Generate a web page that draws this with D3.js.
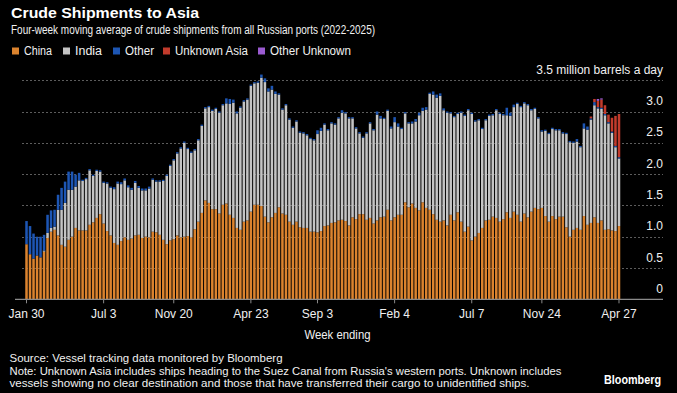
<!DOCTYPE html>
<html><head><meta charset="utf-8">
<script src="https://cdn.jsdelivr.net/npm/d3@7"></script>
<style>
html,body{margin:0;padding:0;background:#000;}
svg{display:block;}
text{font-family:"Liberation Sans Narrow","Liberation Sans",Arial,sans-serif;}
</style></head>
<body>
<svg id="chart" width="677" height="393"></svg>
<script>
// ---- data (million barrels a day, four-week moving average) ----
const startWeek = "2022-01-30";
const china = [0.88,0.72,0.65,0.70,0.67,0.76,0.98,1.08,1.11,1.02,0.87,0.84,0.95,1.00,1.14,1.10,1.10,1.10,1.19,1.23,
1.30,1.36,1.21,1.09,1.02,0.90,0.87,0.93,0.99,0.95,0.97,1.02,1.03,0.98,1.00,0.99,1.08,1.07,1.03,0.95,
0.88,0.94,0.96,1.02,0.99,1.00,1.01,0.99,1.12,1.24,1.38,1.58,1.54,1.44,1.44,1.37,1.51,1.53,1.35,1.30,
1.14,1.11,1.24,1.26,1.40,1.51,1.51,1.49,1.32,1.23,1.31,1.38,1.47,1.37,1.35,1.24,1.19,1.24,1.15,1.14,
1.14,1.08,1.08,1.07,1.09,1.17,1.18,1.22,1.23,1.26,1.27,1.25,1.18,1.31,1.28,1.36,1.36,1.27,1.30,1.21,
1.26,1.31,1.32,1.43,1.26,1.31,1.35,1.35,1.55,1.47,1.53,1.46,1.42,1.55,1.46,1.43,1.36,1.27,1.24,1.26,
1.18,1.35,1.26,1.39,1.24,1.08,1.16,0.94,1.00,1.06,1.14,1.26,1.27,1.32,1.30,1.24,1.28,1.39,1.30,1.40,
1.35,1.24,1.37,1.31,1.40,1.46,1.44,1.46,1.33,1.24,1.33,1.28,1.32,1.32,1.15,1.00,1.11,1.14,1.11,1.33,
1.19,1.22,1.31,1.22,1.26,1.11,1.12,1.10,1.09,1.17];
const india = [0.00,0.00,0.00,0.00,0.00,0.02,0.08,0.06,0.05,0.41,0.56,0.70,0.80,0.75,0.66,0.80,0.79,0.82,0.87,0.74,
0.75,0.68,0.65,0.76,0.76,0.86,0.98,0.91,0.91,0.84,0.78,0.84,0.75,0.76,0.74,0.78,0.83,0.81,0.85,0.94,
1.09,1.19,1.26,1.31,1.42,1.50,1.39,1.35,1.26,1.30,1.39,1.47,1.53,1.57,1.60,1.61,1.59,1.60,1.77,1.84,
1.83,1.95,1.92,1.93,2.01,1.94,1.95,2.05,2.15,2.09,2.04,1.90,1.80,1.66,1.75,1.63,1.55,1.60,1.51,1.51,
1.48,1.48,1.46,1.57,1.60,1.62,1.52,1.59,1.56,1.63,1.71,1.72,1.71,1.58,1.45,1.29,1.22,1.38,1.51,1.49,
1.69,1.58,1.56,1.58,1.47,1.52,1.41,1.37,1.42,1.34,1.28,1.38,1.52,1.46,1.57,1.85,1.91,1.95,2.01,1.76,
1.80,1.62,1.65,1.57,1.74,1.85,1.86,2.02,1.84,1.80,1.58,1.60,1.66,1.62,1.72,1.72,1.66,1.55,1.63,1.67,
1.77,1.83,1.76,1.79,1.62,1.58,1.45,1.22,1.36,1.40,1.39,1.42,1.38,1.33,1.49,1.51,1.39,1.38,1.32,1.40,
1.52,1.65,1.79,1.83,1.78,1.83,1.69,1.56,1.34,1.08];
const other = [0.37,0.45,0.40,0.30,0.33,0.25,0.29,0.28,0.27,0.24,0.35,0.34,0.29,0.29,0.19,0.12,0.02,0.02,0.02,0.02,
0.02,0.02,0.02,0.02,0.02,0.03,0.03,0.03,0.03,0.03,0.03,0.03,0.03,0.03,0.03,0.03,0.02,0.02,0.02,0.02,
0.02,0.02,0.02,0.02,0.02,0.02,0.02,0.02,0.02,0.02,0.02,0.02,0.02,0.02,0.02,0.02,0.02,0.08,0.08,0.05,
0.03,0.02,0.02,0.02,0.02,0.02,0.02,0.05,0.06,0.05,0.06,0.04,0.02,0.02,0.02,0.02,0.02,0.02,0.02,0.02,
0.02,0.02,0.02,0.06,0.05,0.02,0.02,0.02,0.02,0.02,0.04,0.02,0.02,0.02,0.02,0.02,0.02,0.02,0.02,0.02,
0.05,0.04,0.02,0.02,0.03,0.08,0.05,0.02,0.02,0.02,0.03,0.04,0.04,0.05,0.04,0.02,0.05,0.05,0.04,0.03,
0.02,0.02,0.02,0.02,0.02,0.02,0.02,0.02,0.02,0.02,0.02,0.02,0.02,0.02,0.02,0.02,0.02,0.12,0.05,0.04,
0.02,0.02,0.02,0.02,0.02,0.02,0.02,0.02,0.02,0.02,0.02,0.02,0.02,0.02,0.02,0.02,0.02,0.04,0.02,0.08,
0.05,0.02,0.05,0.02,0.02,0.02,0.02,0.02,0.02,0.02];
const unknownAsia = Array(161).fill(0).concat([0.03,0.05,0.10,0.13,0.14,0.12,0.22,0.48,0.69]);
const otherUnknown = Array(163).fill(0).concat([0.03,0.02,0,0,0,0,0]);

const seriesNames = ["China","India","Other","Unknown Asia","Other Unknown"];
const seriesColors = ["#db832e","#c4c4c4","#1d56b4","#c23b2c","#9b5bd1"];
const tickDates = ["2022-01-30","2022-07-03","2022-11-20","2023-04-23","2023-09-03","2024-02-04","2024-07-07","2024-11-24","2025-04-27"];
const tickLabels = ["Jan 30","Jul 3","Nov 20","Apr 23","Sep 3","Feb 4","Jul 7","Nov 24","Apr 27"];
const yTicks = [0,0.5,1,1.5,2,2.5,3,3.5];

// ---- build ----
const parse = d3.timeParse("%Y-%m-%d");
const fmt = d3.timeFormat("%Y-%m-%d");
const start = parse(startWeek);
const weeks = china.map((_, i) => fmt(d3.timeDay.offset(start, 7 * i)));
const table = weeks.map((w, i) => ({week: w, "China": china[i], "India": india[i], "Other": other[i],
  "Unknown Asia": unknownAsia[i], "Other Unknown": otherUnknown[i]}));
const stacked = d3.stack().keys(seriesNames)(table);

const svg = d3.select("#chart");
const x = d3.scaleBand().domain(weeks).range([25.25, 620.25]).paddingInner(0.28).paddingOuter(0);
const y = d3.scaleLinear().domain([0, 3.5]).range([299.3, 80.2]);
const txt = "#f0f0f0";

// title
svg.append("text").attr("x", 11).attr("y", 18).attr("fill", "#fff")
  .attr("font-family", "Liberation Sans, Arial, sans-serif")
  .attr("font-weight", "bold").attr("font-size", 15.5).attr("textLength", 188).attr("lengthAdjust", "spacingAndGlyphs")
  .text("Crude Shipments to Asia");
svg.append("text").attr("x", 11).attr("y", 33.5).attr("fill", txt).attr("font-size", 12.5)
  .attr("textLength", 364).attr("lengthAdjust", "spacingAndGlyphs")
  .text("Four-week moving average of crude shipments from all Russian ports (2022-2025)");

// legend
const legX = [12, 63, 113, 163, 258];
const legW = [28, 27, 29, 73, 81];
const leg = svg.append("g");
seriesNames.forEach((n, i) => {
  leg.append("rect").attr("x", legX[i]).attr("y", 47.5).attr("width", 7).attr("height", 7).attr("fill", seriesColors[i]);
  leg.append("text").attr("x", legX[i] + 12).attr("y", 55).attr("fill", txt).attr("font-size", 12)
    .attr("textLength", legW[i]).attr("lengthAdjust", "spacingAndGlyphs").text(n);
});

// gridlines
svg.append("g").selectAll("line").data(yTicks.filter(v => v > 0)).join("line")
  .attr("x1", 22).attr("x2", 663).attr("y1", d => Math.round(y(d)) + 0.5).attr("y2", d => Math.round(y(d)) + 0.5)
  .attr("stroke", "#5c5c5c").attr("stroke-width", 1).attr("stroke-dasharray", "2,2");

// y labels
svg.append("g").selectAll("text").data(yTicks).join("text")
  .attr("x", 663).attr("y", d => y(d) - 6.5).attr("text-anchor", "end").attr("fill", txt).attr("font-size", 12)
  .text(d => d === 3.5 ? "3.5 million barrels a day" : (d === 0 ? "0" : d3.format(".1f")(d)));

// bars
const colorOf = d3.scaleOrdinal().domain(seriesNames).range(seriesColors);
svg.append("g").selectAll("g").data(stacked).join("g").attr("fill", d => colorOf(d.key))
  .selectAll("rect").data(d => d).join("rect")
  .attr("x", d => x(d.data.week)).attr("width", x.bandwidth())
  .attr("y", d => y(d[1])).attr("height", d => Math.max(0, y(d[0]) - y(d[1])));

// x axis
const xAxis = d3.axisBottom(x).tickValues(tickDates).tickFormat((d, i) => tickLabels[i]).tickSize(4).tickSizeOuter(0);
const gx = svg.append("g").attr("transform", "translate(0,299.3)").call(xAxis);
gx.select(".domain").remove();
gx.insert("line", ":first-child").attr("x1", 15).attr("x2", 663).attr("y1", 0).attr("y2", 0).attr("stroke", "#8a8a8a").attr("stroke-width", 1.2);
gx.selectAll(".tick line").attr("stroke", "#8a8a8a");
gx.selectAll(".tick text").attr("fill", txt).attr("font-size", 12).attr("dy", 0).attr("y", 19)
  .attr("font-family", "Liberation Sans Narrow, Liberation Sans, Arial, sans-serif");

svg.append("text").attr("x", 337.5).attr("y", 339).attr("text-anchor", "middle").attr("fill", txt).attr("font-size", 12)
  .attr("textLength", 66).attr("lengthAdjust", "spacingAndGlyphs").text("Week ending");

// footer
const foot = [
  ["Source: Vessel tracking data monitored by Bloomberg", 362, 273],
  ["Note: Unknown Asia includes ships heading to the Suez Canal from Russia's western ports. Unknown includes", 374.5, 552],
  ["vessels showing no clear destination and those that have transferred their cargo to unidentified ships.", 386.5, 520]
];
foot.forEach(f => svg.append("text").attr("x", 9.5).attr("y", f[1]).attr("fill", txt).attr("font-size", 11.5)
  .attr("textLength", f[2]).attr("lengthAdjust", "spacingAndGlyphs").text(f[0]));
svg.append("text").attr("x", 604).attr("y", 384).attr("fill", "#fff").attr("font-weight", "bold").attr("font-size", 12)
  .attr("font-family", "Liberation Sans, Arial, sans-serif")
  .attr("textLength", 57).attr("lengthAdjust", "spacingAndGlyphs").text("Bloomberg");
</script>
</body></html>
